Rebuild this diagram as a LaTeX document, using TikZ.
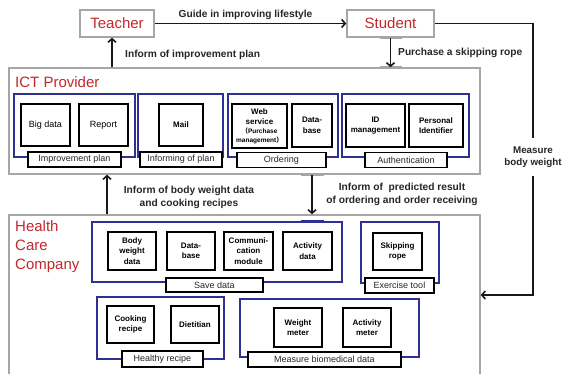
\documentclass[tikz,border=0pt]{standalone}
\usepackage{fontspec}
\setmainfont{Liberation Sans}
\newfontfamily\cjk{Noto Sans CJK SC}
\usetikzlibrary{arrows.meta}
\definecolor{titlered}{HTML}{C1272D}
\definecolor{navy}{HTML}{2E3192}
\definecolor{outergray}{HTML}{A6A6A6}
\newcommand{\smallp}{\fontsize{6.5}{7.5}\selectfont}
\begin{document}
\begin{tikzpicture}[x=1pt,y=-1pt,
  sz/.style 2 args={minimum width=#1pt, minimum height=#2pt},
  outer/.style={draw=outergray, line width=1.5pt, inner sep=0pt},
  actor/.style={draw=outergray, line width=1.5pt, fill=white, text=titlered, inner sep=0pt, font=\fontsize{15}{18}\selectfont},
  title/.style={text=titlered, inner sep=0pt, align=left, font=\fontsize{15}{19}\selectfont},
  group/.style={draw=navy, line width=1.4pt, inner sep=0pt},
  ibox/.style={draw=black, line width=1.6pt, fill=white, align=center, inner sep=1pt, font=\fontsize{8}{10.5}\selectfont\bfseries},
  rbox/.style={draw=black, line width=1.6pt, fill=white, align=center, inner sep=1pt, font=\fontsize{9}{11}\selectfont},
  lbox/.style={draw=black, line width=1.1pt, fill=white, inner sep=0pt, text=black!85, font=\fontsize{9}{11}\selectfont},
  clbl/.style={inner sep=0pt, align=center, text=black!85, font=\fontsize{10.2}{13}\selectfont\bfseries},
  arr/.style={draw=black!90, line width=1.6pt, -{Straight Barb[length=3.5pt,width=8pt]}},
  portmark/.style={line width=3pt}
]
\useasboundingbox (0,0) rectangle (563,374);

% actors
\node[actor, sz={74}{27}] (teacher) at (117,23.5) {Teacher};
\node[actor, sz={87}{27}] (student) at (390.5,23.5) {Student};

% outer boxes
\node[outer, sz={471}{106}] (ict) at (244.5,121) {};
\node[outer, sz={471}{170}] (hcc) at (244.5,300) {};
\node[title, anchor=west] (icttitle) at (15,82) {ICT Provider};
\node[title, anchor=west] (hcctitle) at (15,247) {Health\\Care\\Company};

% ICT groups
\node[group, sz={121}{63}] (g1) at (74.5,125.5) {};
\node[group, sz={85}{63}] (g2) at (180.5,125.5) {};
\node[group, sz={110}{63}] (g3) at (283,125.5) {};
\node[group, sz={127}{63}] (g4) at (405.5,125.5) {};

\node[rbox, sz={49}{42}] (bigdata) at (45.5,125) {Big data};
\node[rbox, sz={49}{42}] (report) at (103.5,125) {Report};
\node[ibox, sz={44}{42}] (mail) at (181,125) {Mail};
\node[ibox, sz={55}{44}, inner sep=0pt] (web) at (259.5,126) {Web\\service\\[-1.5pt]{\smallp{\cjk （}Purchase}\\[-2pt]{\smallp management{\cjk ）}}};
\node[ibox, sz={40}{43}] (db1) at (312,125.5) {Data-\\base};
\node[ibox, sz={59}{43}] (idm) at (375.5,125.5) {ID\\management};
\node[ibox, sz={54}{43}] (pid) at (436,125.5) {Personal\\Identifier};

\node[lbox, sz={93}{15}] (l1) at (74.5,159.5) {Improvement plan};
\node[lbox, sz={82}{15}] (l2) at (181,159.5) {Informing of plan};
\node[lbox, sz={89}{15}] (l3) at (281.5,160) {Ordering};
\node[lbox, sz={82}{15}] (l4) at (406,160) {Authentication};

% HCC groups
\node[group, sz={250}{60}] (g5) at (217,252) {};
\node[group, sz={78}{61}] (g6) at (400,252.5) {};
\node[group, sz={127}{62}] (g7) at (160.5,328) {};
\node[group, sz={179}{58}] (g8) at (329.5,328) {};

\node[ibox, sz={48}{38}] (bw) at (132,251) {Body\\weight\\data};
\node[ibox, sz={48}{38}] (db2) at (191,251) {Data-\\base};
\node[ibox, sz={49}{38}] (comm) at (248.5,251) {Communi-\\cation\\module};
\node[ibox, sz={49}{38}] (act) at (307.5,251) {Activity\\data};
\node[ibox, sz={49}{37}] (rope) at (397.5,251.5) {Skipping\\rope};
\node[ibox, sz={47}{37}] (cook) at (130.5,324.5) {Cooking\\recipe};
\node[ibox, sz={48}{37}] (diet) at (195,324.5) {Dietitian};
\node[ibox, sz={48}{39}] (wm) at (298,327.5) {Weight\\meter};
\node[ibox, sz={48}{39}] (am) at (367,327.5) {Activity\\meter};

\node[lbox, sz={97}{14}] (l5) at (214.5,285) {Save data};
\node[lbox, sz={69}{15}] (l6) at (399.5,285.5) {Exercise tool};
\node[lbox, sz={81}{16}] (l7) at (162.5,359) {Healthy recipe};
\node[lbox, sz={153}{15}] (l8) at (324.5,359.5) {Measure biomedical data};

% port marks
\draw[portmark, draw=outergray] ([xshift=-11pt]student.south) -- ([xshift=11pt]student.south);
\draw[portmark, draw=outergray] ([xshift=-11pt]student.south |- ict.north) -- ([xshift=11pt]student.south |- ict.north);
\coordinate (p4) at (312,0);
\draw[portmark, draw=outergray] ([xshift=-11.5pt]p4 |- ict.south) -- ([xshift=11.5pt]p4 |- ict.south);
\draw[portmark, draw=navy] ([xshift=-11.5pt]p4 |- g5.north) -- ([xshift=11.5pt]p4 |- g5.north);

% connectors
\draw[arr] (teacher.east) -- (student.west);
\node[clbl] (guide) at (245.5,15) {Guide in improving lifestyle};

\coordinate (p1) at (112,0);
\draw[arr] (p1 |- ict.north) -- (p1 |- teacher.south);
\node[clbl, anchor=west] (inf1) at (125,55) {Inform of improvement plan};

\draw[arr] (student.south) -- (student.south |- ict.north);
\node[clbl, anchor=west] (buy) at (398,53) {Purchase a skipping rope};

\coordinate (p3) at (107,0);
\draw[arr] (p3 |- hcc.north) -- (p3 |- ict.south);
\node[clbl] (inf2) at (189,197) {Inform of body weight data\\and cooking recipes};

\draw[arr] (p4 |- ict.south) -- (p4 |- hcc.north);
\node[clbl] (inf3) at (402,194) {Inform of\ \ predicted result\\of ordering and order receiving};

\coordinate (rc) at (533,295);
\draw[arr] (student.east) -| (rc) -- (rc -| hcc.east);
\node[clbl, fill=white, inner ysep=8pt, inner xsep=1pt, font=\fontsize{9.8}{12.5}\selectfont\bfseries] (mbw) at (533,157) {Measure\\body weight};
\end{tikzpicture}
\end{document}
